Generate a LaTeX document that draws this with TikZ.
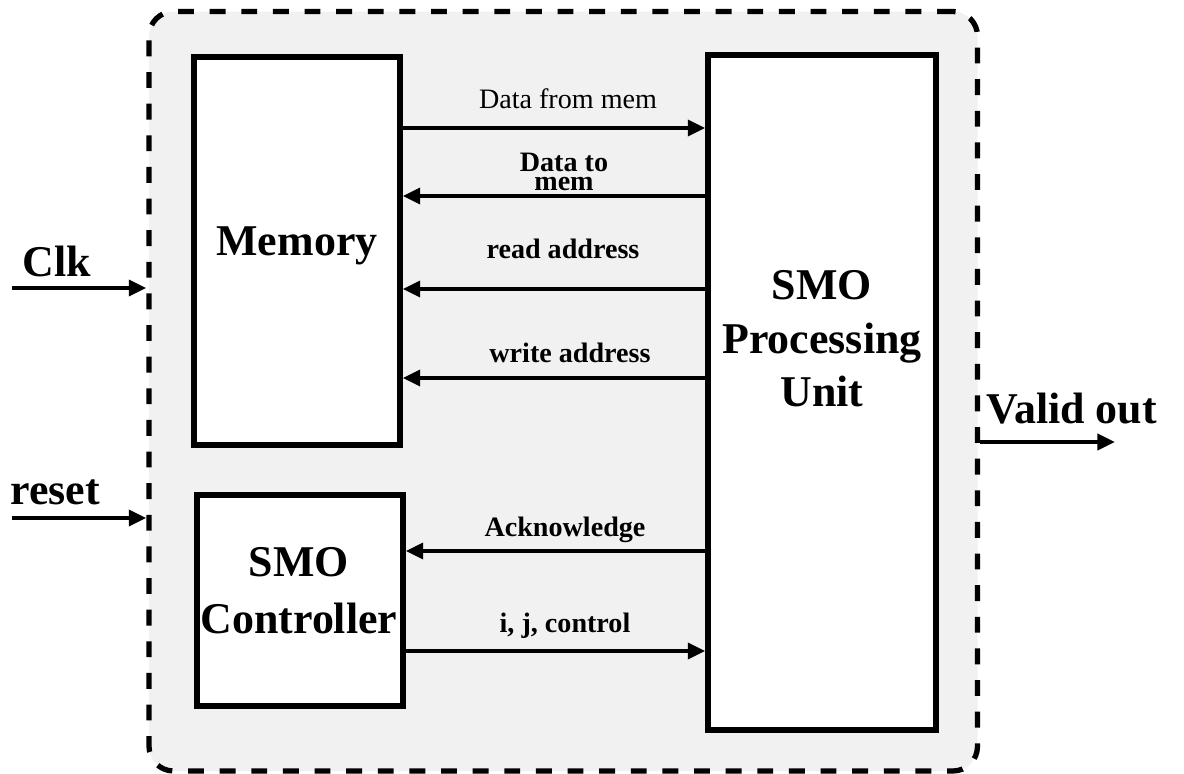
\documentclass[tikz,border=0pt]{standalone}
\usepackage{fontspec}
\setmainfont{Liberation Serif}
\usetikzlibrary{arrows.meta}
\definecolor{chipgray}{HTML}{F1F1F1}
\begin{document}
\begin{tikzpicture}[x=0.02cm,y=-0.02cm,
  unitbox/.style={draw, line width=3pt, fill=white, inner sep=0pt},
  chipbox/.style={draw, dash pattern=on 9pt off 9pt, line width=3pt,
    fill=chipgray, rounded corners=14pt, inner sep=0pt},
  sig/.style={line width=2.3pt, -{Triangle[length=10pt,width=9pt]}},
  bigtxt/.style={font=\fontsize{25}{31}\selectfont\bfseries, inner sep=0pt},
  sigtxt/.style={font=\fontsize{16}{17}\selectfont\bfseries, inner sep=0pt, anchor=base},
]
\useasboundingbox (0,0) rectangle (1184,774);

% dashed outline of the whole design
\node[chipbox, minimum width=828.5*0.02cm, minimum height=759.5*0.02cm]
  (chip) at (563.25,391.25) {};

% functional blocks
\node[unitbox, minimum width=206*0.02cm, minimum height=388*0.02cm] (mem) at (297,251) {};
\node[unitbox, minimum width=206*0.02cm, minimum height=211*0.02cm] (ctrl) at (300,600.5) {};
\node[unitbox, minimum width=228*0.02cm, minimum height=675*0.02cm] (proc) at (822,392.5) {};

\node[bigtxt, anchor=base] (memlbl) at (297,255) {Memory};
\node[bigtxt, align=center, font=\fontsize{25}{32.4}\selectfont\bfseries] (ctrllbl) at (299,591) {SMO\\Controller};
\node[bigtxt, align=center, font=\fontsize{25}{30.4}\selectfont\bfseries] (proclbl) at (822,339) {SMO\\Processing\\Unit};

% buses between memory / controller and processing unit
\draw[sig] (mem.east |- 0,128) -- (proc.west |- 0,128);
\draw[sig] (proc.west |- 0,196) -- (mem.east |- 0,196);
\draw[sig] (proc.west |- 0,289) -- (mem.east |- 0,289);
\draw[sig] (proc.west |- 0,378) -- (mem.east |- 0,378);
\draw[sig] (proc.west |- 0,551) -- (ctrl.east |- 0,551);
\draw[sig] (ctrl.east |- 0,651) -- (proc.west |- 0,651);

\node[sigtxt, font=\fontsize{16}{17}\selectfont] (l1) at (568,108) {Data from mem};
\node[sigtxt, align=center, font=\fontsize{16}{11}\selectfont\bfseries, anchor=center] (l2) at (564,172) {Data to\\mem};
\node[sigtxt] (l3) at (563,258) {read address};
\node[sigtxt] (l4) at (570,362) {write address};
\node[sigtxt] (l5) at (565,536) {Acknowledge};
\node[sigtxt] (l6) at (565,632) {i, j, control};

% external ports
\coordinate (clkin) at (12,288);
\coordinate (rstin) at (12,518);
\coordinate (vout) at (1115,442);
\draw[sig] (clkin) -- (chip.west |- clkin);
\draw[sig] (rstin) -- (chip.west |- rstin);
\draw[sig] (chip.east |- vout) -- (vout);

\node[bigtxt, anchor=base west] (clklbl) at (22,276) {Clk};
\node[bigtxt, anchor=base west] (rstlbl) at (10,504) {reset};
\node[bigtxt, anchor=base west] (voutlbl) at (986,423) {Valid out};
\end{tikzpicture}
\end{document}
